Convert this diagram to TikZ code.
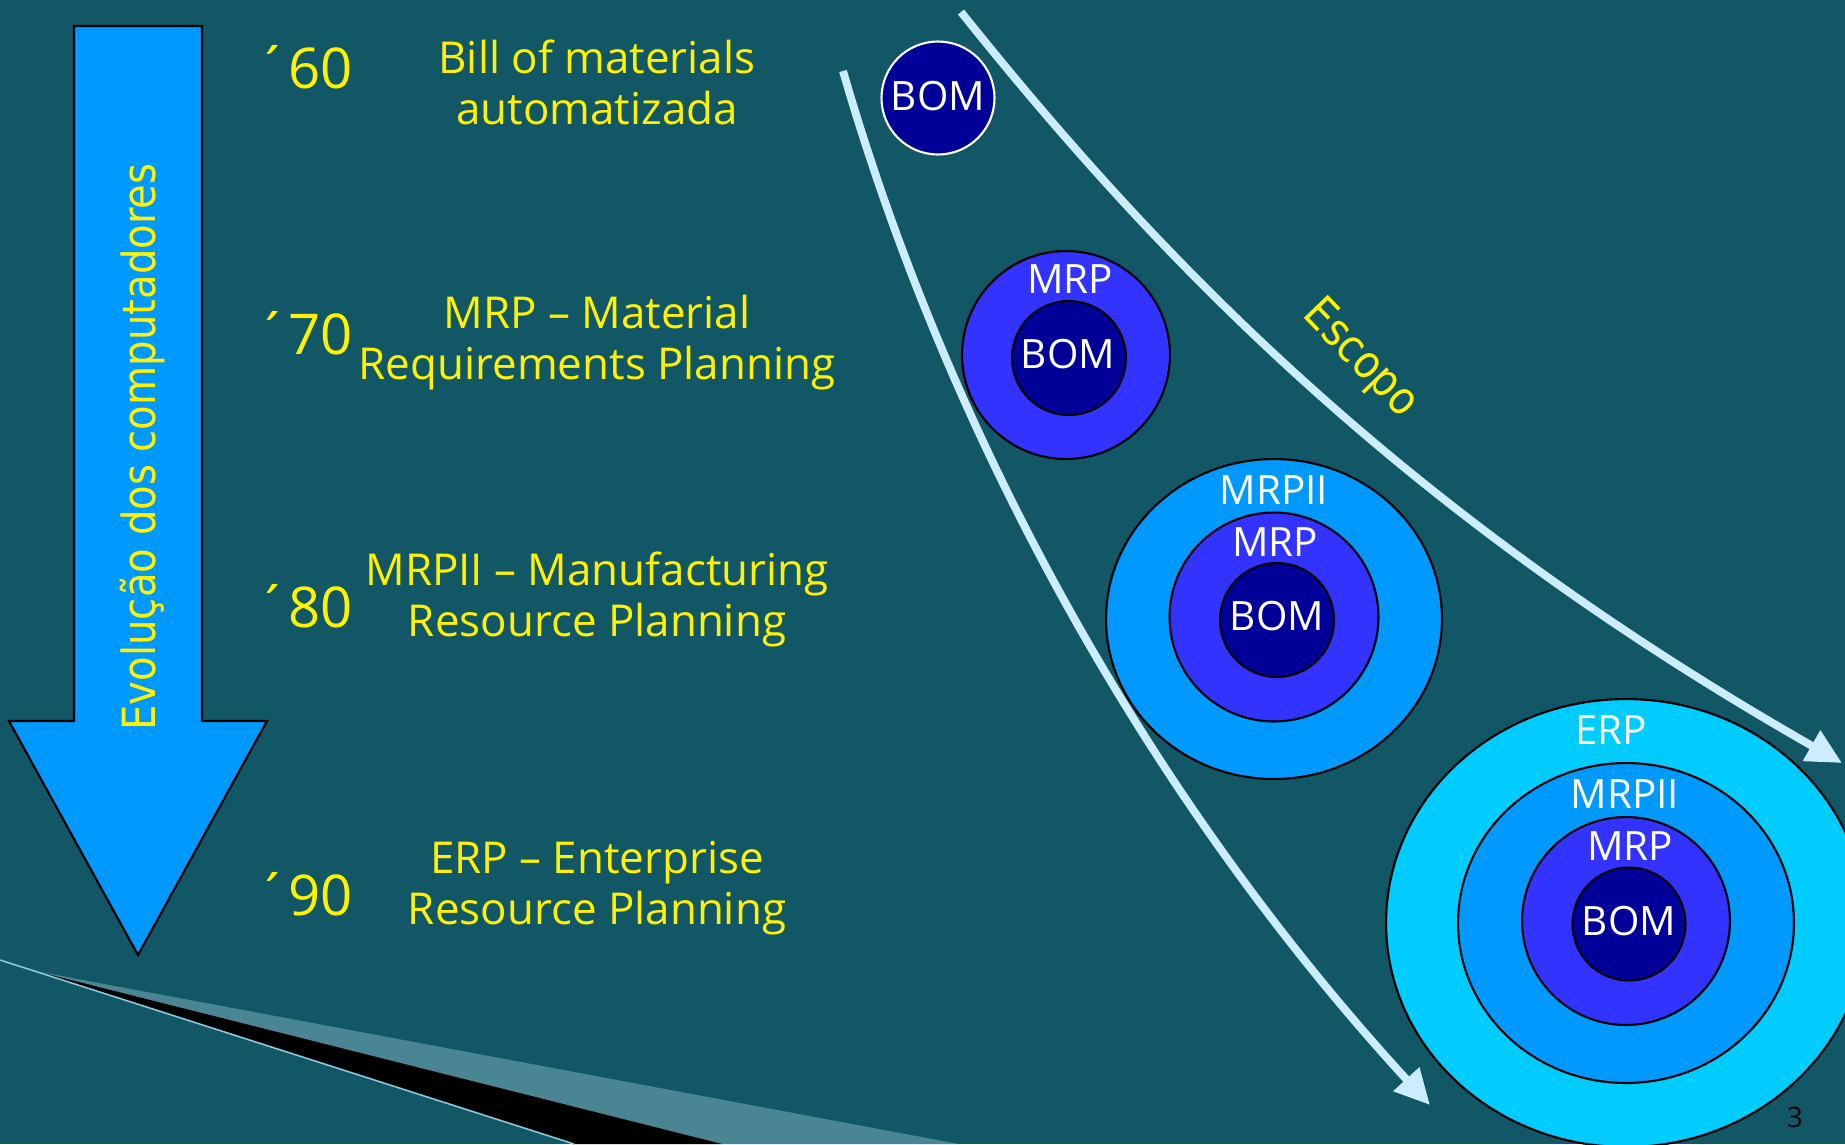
\documentclass[tikz,border=0pt]{standalone}
\usepackage{fontspec}
\setmainfont{Open Sans}
\newfontfamily\vertfont[FakeStretch=0.88]{DejaVu Sans}
\usetikzlibrary{arrows.meta,shapes.geometric}

\definecolor{bgteal}{RGB}{17,87,102}
\definecolor{arrowblue}{RGB}{0,153,255}
\definecolor{bomblue}{RGB}{0,0,153}
\definecolor{mrpblue}{RGB}{51,51,255}
\definecolor{mrpiiblue}{RGB}{0,153,255}
\definecolor{erpblue}{RGB}{0,204,255}
\definecolor{scopeline}{RGB}{204,236,255}
\definecolor{wedgegray}{RGB}{74,133,148}
\definecolor{glint}{RGB}{140,200,220}

\tikzset{
  ring/.style={draw=black, line width=1.2pt, inner sep=0pt},
  ringlabel/.style={text=white, font=\fontsize{23}{27}\selectfont, anchor=base},
  year/.style={text=yellow, font=\fontsize{32}{36}\selectfont, anchor=base west},
  desc/.style={text=yellow, font=\fontsize{25}{29}\selectfont, align=center, anchor=base},
  vtext/.style={text=yellow, font=\vertfont\fontsize{26}{30}\selectfont},
  scopearrow/.style={draw=scopeline, line width=4.5pt, -{Triangle[length=20pt,width=19pt]}},
}

\begin{document}
\begin{tikzpicture}[x=0.02cm,y=-0.02cm]
        \fill[bgteal] (0,0) rectangle (1845,1144);
        \useasboundingbox (0,0) rectangle (1845,1144);
        \clip (0,0) rectangle (1845,1144);

        \fill[wedgegray] (35,971) -- (959,1144) -- (722,1144) -- cycle;
        \fill[black] (35,971) -- (722,1144) -- (574,1144) -- cycle;
        \draw[glint, line width=0.9pt] (0,960) -- (574,1144);

        \draw[fill=arrowblue, line width=1.2pt] (74,26) -- (202,26) -- (202,721) -- (267,721) -- (138,955) -- (9,721) -- (74,721) -- cycle;
        \node[vtext, rotate=90, anchor=base] (evo) at (155,447) {Evolução dos computadores};

        \node[year] (y60) at (250,88) {´60};
        \node[desc] (d60) at (597,124) {Bill of materials\\automatizada};
        \node[year] (y70) at (250,354) {´70};
        \node[desc] (d70) at (597,379) {MRP – Material\\Requirements Planning};
        \node[year] (y80) at (250,627) {´80};
        \node[desc] (d80) at (597,636) {MRPII – Manufacturing\\Resource Planning};
        \node[year] (y90) at (250,915) {´90};
        \node[desc] (d90) at (597,924) {ERP – Enterprise\\Resource Planning};

        \node[ring, circle, draw=white, fill=bomblue, minimum size=2.26cm] (bom1) at (938,98) {};
        \node[ringlabel] (bom1t) at (938,110) {BOM};

        \node[ring, circle, fill=mrpblue, minimum size=4.16cm] (mrp2) at (1066,355) {};
        \node[ring, circle, fill=bomblue, minimum size=2.28cm] (bom2) at (1069,358) {};
        \node[ringlabel] (mrp2t) at (1070,293) {MRP};
        \node[ringlabel] (bom2t) at (1068,368) {BOM};

        \node[ring, ellipse, fill=mrpiiblue, minimum width=6.72cm, minimum height=6.4cm] (mrpii3) at (1274,619) {};
        \node[ring, circle, fill=mrpblue, minimum size=4.18cm] (mrp3) at (1274,617) {};
        \node[ring, circle, fill=bomblue, minimum size=2.28cm] (bom3) at (1277,620) {};
        \node[ringlabel] (mrpii3t) at (1274,504) {MRPII};
        \node[ringlabel] (mrp3t) at (1275,556) {MRP};
        \node[ringlabel] (bom3t) at (1277,630) {BOM};

        \node[ring, ellipse, fill=erpblue, minimum width=9.6cm, minimum height=8.96cm] (erp4) at (1626,923) {};
        \node[ring, ellipse, fill=mrpiiblue, minimum width=6.72cm, minimum height=6.4cm] (mrpii4) at (1626,923) {};
        \node[ring, circle, fill=mrpblue, minimum size=4.16cm] (mrp4) at (1626,921) {};
        \node[ring, circle, fill=bomblue, minimum size=2.26cm] (bom4) at (1629,924) {};
        \node[ringlabel] (erp4t) at (1611,744) {ERP};
        \node[ringlabel] (mrpii4t) at (1625,808) {MRPII};
        \node[ringlabel] (mrp4t) at (1630,860) {MRP};
        \node[ringlabel] (bom4t) at (1629,935) {BOM};

        \coordinate (inner0) at (843,71);
        \coordinate (inner1) at (1430,1105);
        \draw[scopearrow] (inner0) .. controls (950,440) and (1150,800) .. (inner1);
        \coordinate (outer0) at (961,12);
        \coordinate (outer1) at (1842,763);
        \draw[scopearrow] (outer0) .. controls (1161,262) and (1404,513) .. (outer1);
        \node[vtext, rotate=-46] (esc) at (1360,359) {Escopo};

        \node[anchor=base, font=\fontsize{16}{19}\selectfont] (page) at (1795,1127) {3};
\end{tikzpicture}
\end{document}
